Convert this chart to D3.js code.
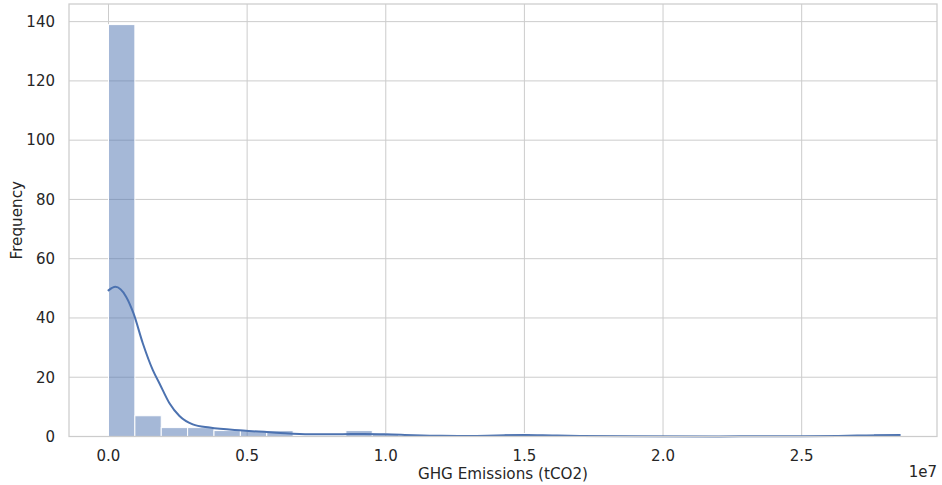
<!DOCTYPE html>
<html>
<head>
<meta charset="utf-8">
<script src="https://cdn.jsdelivr.net/npm/d3@7"></script>
<style>
  html, body { margin: 0; padding: 0; background: #fff; }
  svg text { font-family: "DejaVu Sans", sans-serif; fill: #262626; }
</style>
</head>
<body>
<svg id="chart" width="942" height="485"></svg>
<script>
// ---- data ----
const binStart = 0;            // tCO2
const binEnd = 2.854e7;        // tCO2 (data max)
const binCount = 30;
const counts = [139, 7, 3, 3, 2, 2, 2, 0, 0, 2,
                1, 0, 0, 0, 0, 1, 0, 0, 0, 0,
                0, 0, 0, 0, 0, 0, 0, 0, 0, 1];
// KDE curve (scaled to counts), x in units of 1e6 tCO2
const kdeX = [0, 0.25, 0.64, 0.9, 1.24, 1.6, 1.84, 2.2, 2.56, 3.04, 3.65, 4.85, 6.05, 7.25, 8.45, 9.2, 10.0, 11.0, 12.0, 13.0, 14.0, 15.0, 16.0, 17.0, 19.0, 22.0, 25.0, 27.0, 28.54];
const kdeY = [49.3, 50.5, 47.1, 41.6, 31.4, 22.4, 17.9, 11.2, 6.9, 4.1, 3.0, 2.0, 1.3, 0.75, 0.8, 0.85, 0.75, 0.45, 0.25, 0.2, 0.35, 0.5, 0.35, 0.2, 0.08, 0.04, 0.08, 0.3, 0.5];
const xTicks = [0, 0.5e7, 1.0e7, 1.5e7, 2.0e7, 2.5e7];
const xTickLabels = ["0.0", "0.5", "1.0", "1.5", "2.0", "2.5"];
const yTicks = [0, 20, 40, 60, 80, 100, 120, 140];
const xLabel = "GHG Emissions (tCO2)";
const yLabel = "Frequency";
const offsetLabel = "1e7";

// ---- layout ----
const L = 69, R = 937, T = 4, B = 436.5;
const svg = d3.select("#chart");

const binW = (binEnd - binStart) / binCount;
const x = d3.scaleLinear().domain([-0.1424e7, 2.988e7]).range([L, R]);
const y = d3.scaleLinear().domain([0, d3.max(counts) * 1.05]).range([B, T]);

// grid
const g = svg.append("g");
g.selectAll("line.xg").data(xTicks).join("line")
  .attr("x1", d => x(d)).attr("x2", d => x(d)).attr("y1", T).attr("y2", B)
  .attr("stroke", "#cccccc").attr("stroke-width", 1);
g.selectAll("line.yg").data(yTicks).join("line")
  .attr("x1", L).attr("x2", R).attr("y1", d => y(d)).attr("y2", d => y(d))
  .attr("stroke", "#cccccc").attr("stroke-width", 1);

// bars
const bins = counts.map((c, i) => ({x0: binStart + i * binW, x1: binStart + (i + 1) * binW, c}));
svg.append("g").selectAll("rect").data(bins.filter(b => b.c > 0)).join("rect")
  .attr("x", d => x(d.x0)).attr("width", d => x(d.x1) - x(d.x0))
  .attr("y", d => y(d.c)).attr("height", d => y(0) - y(d.c))
  .attr("fill", "rgba(76,114,176,0.5)")
  .attr("stroke", "#ffffff").attr("stroke-width", 1);

// kde
const kde = kdeX.map((v, i) => [v * 1e6, kdeY[i]]);
svg.append("path").datum(kde)
  .attr("d", d3.line().x(d => x(d[0])).y(d => y(d[1])).curve(d3.curveMonotoneX))
  .attr("fill", "none").attr("stroke", "#4c72b0").attr("stroke-width", 2)
  .attr("stroke-linecap", "round");

// spines
svg.append("rect").attr("x", L).attr("y", T).attr("width", R - L).attr("height", B - T)
  .attr("fill", "none").attr("stroke", "#cccccc").attr("stroke-width", 1.25);

// tick labels
svg.append("g").selectAll("text").data(xTicks).join("text")
  .attr("x", d => x(d)).attr("y", 460.5).attr("text-anchor", "middle")
  .attr("font-size", 15).text((d, i) => xTickLabels[i]);
svg.append("g").selectAll("text").data(yTicks).join("text")
  .attr("x", 55).attr("y", d => y(d) + 5.3).attr("text-anchor", "end")
  .attr("font-size", 15).text(d => d);

svg.append("text").attr("x", 937).attr("y", 477).attr("text-anchor", "end")
  .attr("font-size", 15).text(offsetLabel);

// axis labels
svg.append("text").attr("x", (L + R) / 2).attr("y", 479).attr("text-anchor", "middle")
  .attr("font-size", 15.2).text(xLabel);
svg.append("text").attr("transform", `translate(22,${(T + B) / 2}) rotate(-90)`)
  .attr("text-anchor", "middle").attr("font-size", 15.2).text(yLabel);
</script>
</body>
</html>
